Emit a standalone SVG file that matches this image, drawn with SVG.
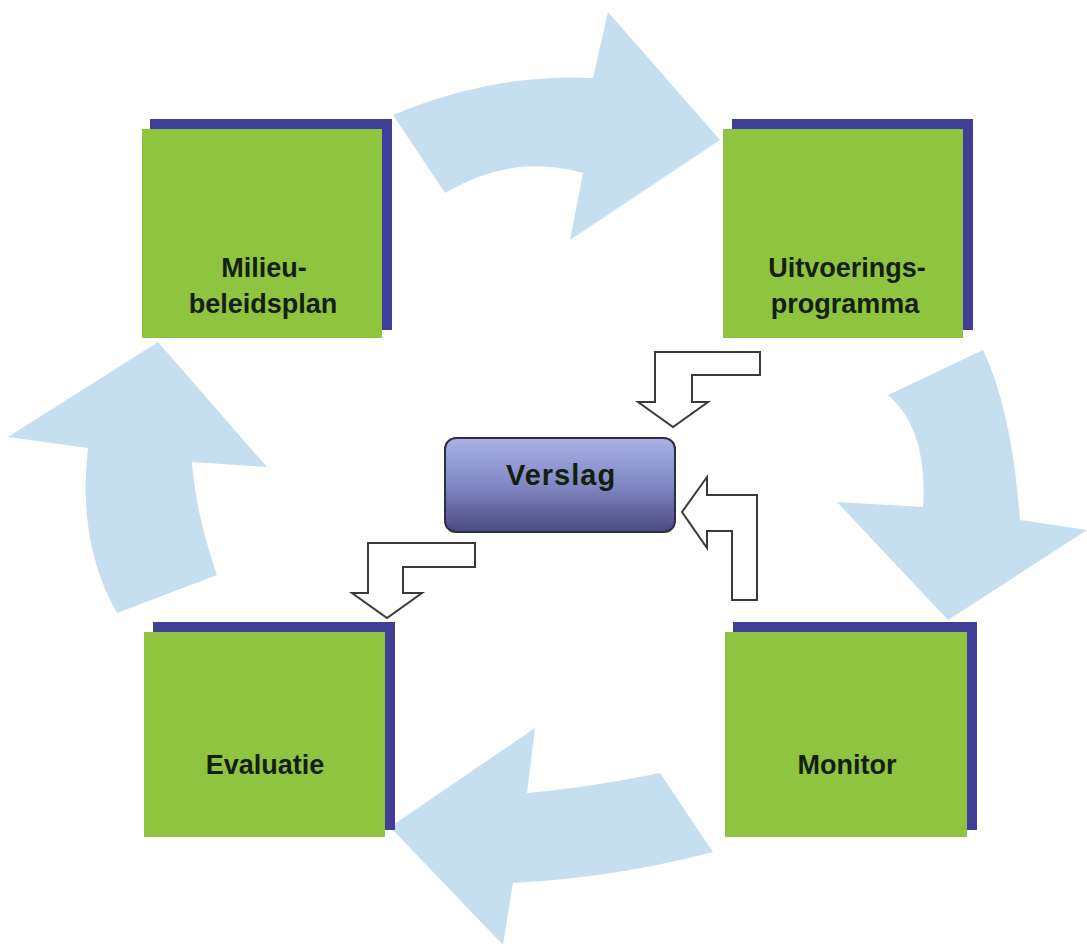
<svg xmlns="http://www.w3.org/2000/svg" width="1087" height="947" viewBox="0 0 1087 947">
<defs>
<linearGradient id="vg" x1="0" y1="0" x2="0" y2="1">
<stop offset="0" stop-color="#a9b1e6"/>
<stop offset="0.5" stop-color="#8088c4"/>
<stop offset="1" stop-color="#4a4a7e"/>
</linearGradient>
<style>
.big{fill:#c6dff0;stroke:none}
.small{fill:#ffffff;stroke:#3a3a3a;stroke-width:2;stroke-linejoin:miter}
.shadow{fill:#3f3f98}
.box{fill:#8fc440}
.lbl{font-family:"Liberation Sans",Arial,sans-serif;font-weight:bold;font-size:27px;fill:#14200f;text-anchor:middle}
</style>
</defs>
<rect width="1087" height="947" fill="#ffffff"/>
<g id="connectors">
<path class="big" d="M393,115 Q493,73 593,78 L608,12 L720,140 L570,240 L583,173 Q512,153 445,193 Z"/>
<path class="big" d="M888,395 L983,350 Q1012,411 1020,520 L1087,530 L948,620 L837,502 L923,507 Q928,429 888,395 Z"/>
<path class="big" d="M660,773 Q593,787 527,793 L535,728 L390,827 L503,945 L513,883 Q613,878 713,852 Z"/>
<path class="big" d="M117,613 Q77,543 88,448 L8,437 L158,342 L267,467 L192,462 Q196,515 217,575 Z"/>
<path class="small" d="M655,352 L760,352 L760,375 L692,375 L692,402 L708,402 L673,427 L638,402 L655,402 Z"/>
<path class="small" d="M682,512 L707,477 L707,495 L757,495 L757,600 L732,600 L732,531 L707,531 L707,548 Z"/>
<path class="small" d="M368,543 L475,543 L475,567 L403,567 L403,593 L422,593 L387,618 L352,593 L368,593 Z"/>
</g>
<g id="milieubeleidsplan">
<rect class="shadow" x="150" y="119" width="242" height="211"/>
<rect class="box" x="142" y="129" width="240" height="209"/>
<text class="lbl" x="264" y="277">Milieu-</text>
<text class="lbl" x="263" y="313">beleidsplan</text>
</g>
<g id="uitvoeringsprogramma">
<rect class="shadow" x="732" y="119" width="241" height="211"/>
<rect class="box" x="723" y="129" width="240" height="209"/>
<text class="lbl" x="847" y="277">Uitvoerings-</text>
<text class="lbl" x="845" y="313">programma</text>
</g>
<g id="evaluatie">
<rect class="shadow" x="153" y="622" width="242" height="208"/>
<rect class="box" x="144" y="632" width="241" height="205"/>
<text class="lbl" x="265" y="774">Evaluatie</text>
</g>
<g id="monitor">
<rect class="shadow" x="733" y="622" width="244" height="208"/>
<rect class="box" x="725" y="632" width="242" height="205"/>
<text class="lbl" x="847" y="774">Monitor</text>
</g>
<g id="verslag">
<rect x="445" y="438" width="230" height="94" rx="11" ry="11" fill="url(#vg)" stroke="#2e2e3e" stroke-width="2"/>
<text class="lbl" x="561" y="485" style="font-size:29px;letter-spacing:1px">Verslag</text>
</g>
</svg>
